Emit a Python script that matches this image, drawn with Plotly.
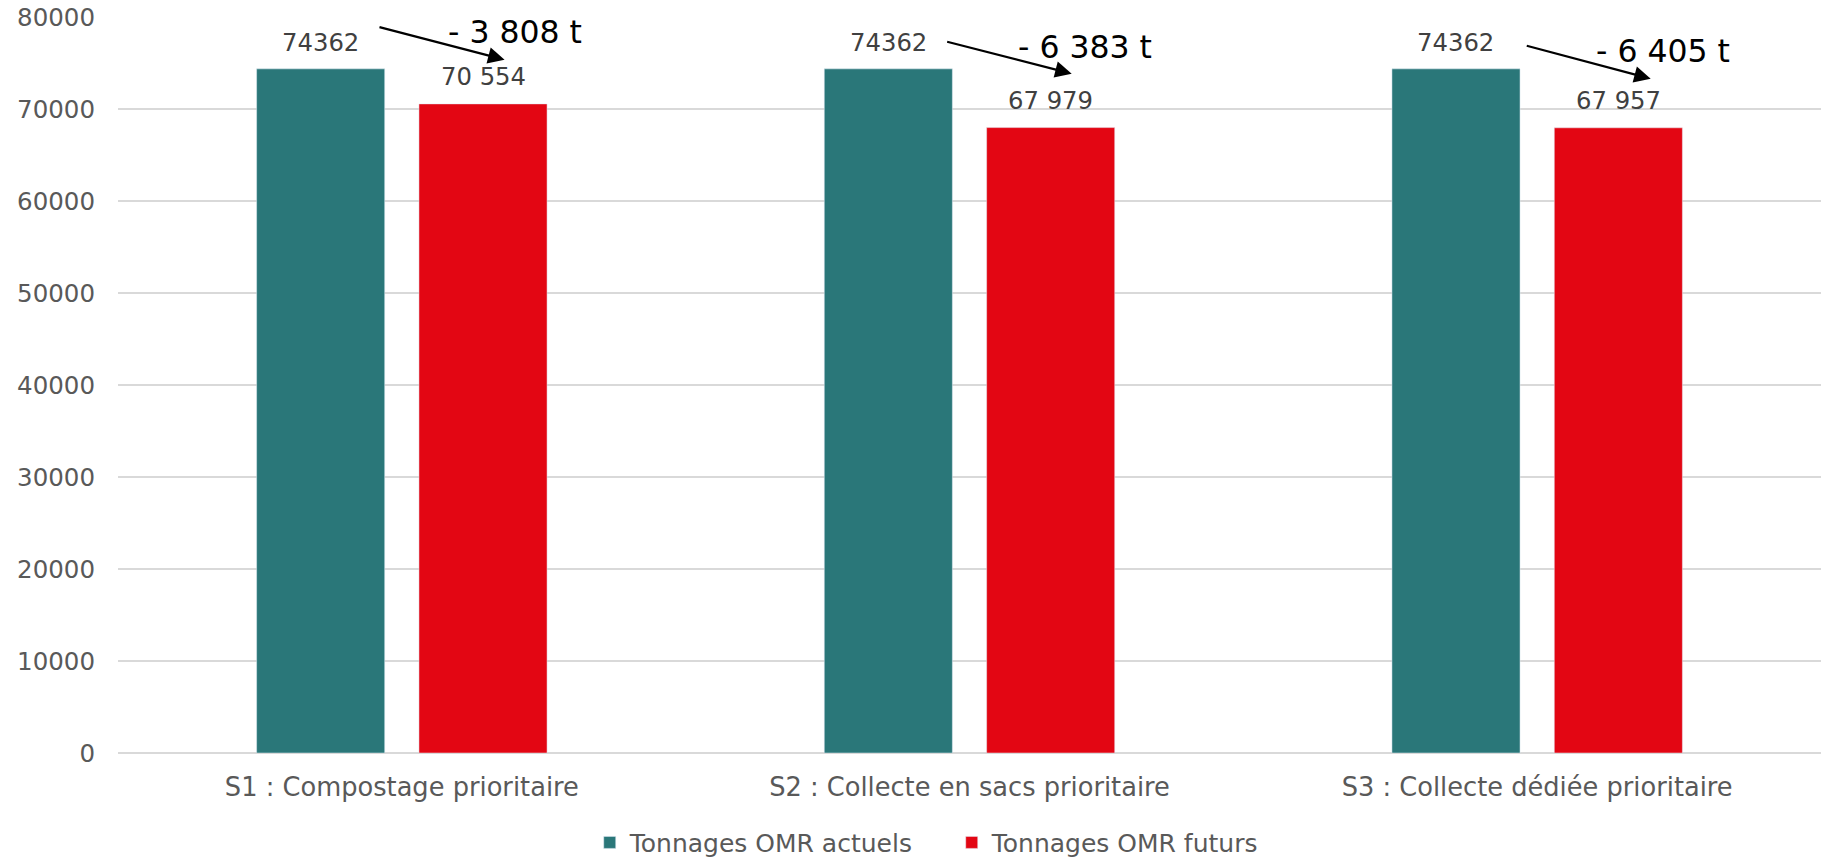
import plotly.graph_objects as go

categories = ["S1 : Compostage prioritaire", "S2 : Collecte en sacs prioritaire", "S3 : Collecte dédiée prioritaire"]
actuels = [74362, 74362, 74362]
futurs = [70554, 67979, 67957]
series_names = ["Tonnages OMR actuels", "Tonnages OMR futurs"]

TEAL = "#2A7779"
RED = "#E30613"
FONT = "DejaVu Sans"

def sp(v):
    return f"{v:,}".replace(",", " ")

fig = go.Figure()
fig.add_trace(go.Bar(x=categories, y=actuels, name=series_names[0], marker_color=TEAL))
fig.add_trace(go.Bar(x=categories, y=futurs, name=series_names[1], marker_color=RED))

off = 0.143
ann = []
for i, (a, f) in enumerate(zip(actuels, futurs)):
    ann.append(dict(x=i - off, y=a, xref="x", yref="y", text=str(a), showarrow=False,
                    yshift=26, yanchor="middle", font=dict(family=FONT, size=24.3, color="#404040")))
    ann.append(dict(x=i + off, y=f, xref="x", yref="y", text=sp(f), showarrow=False,
                    yshift=27, yanchor="middle", font=dict(family=FONT, size=24.3, color="#404040")))

# arrows and differences
arrow_geo = [(-0.042, 78946, 0.181, 75359, 0.200, 78348),
             (-0.042, 77348, 0.180, 73837, 0.203, 76717),
             (-0.021, 76913, 0.200, 73293, 0.222, 76261)]
for i, (a, f) in enumerate(zip(actuels, futurs)):
    tx, ty, hx, hy, lx, ly = arrow_geo[i]
    ann.append(dict(x=i + hx, y=hy, ax=i + tx, ay=ty, xref="x", yref="y", axref="x", ayref="y",
                    text="", showarrow=True, arrowhead=2, arrowsize=1.5, arrowwidth=2.2,
                    arrowcolor="black", standoff=0))
    ann.append(dict(x=i + lx, y=ly, xref="x", yref="y", text=f"- {sp(a - f)} t", showarrow=False,
                    yanchor="middle", font=dict(family=FONT, size=31.5, color="black")))

fig.update_layout(
    width=1821, height=885,
    margin=dict(l=118, r=0, t=17, b=132),
    plot_bgcolor="white", paper_bgcolor="white",
    barmode="group", bargap=0.428, bargroupgap=0.211,
    font=dict(family=FONT, size=24, color="#595959"),
    showlegend=True,
    legend=dict(orientation="h", x=0.277, xanchor="left", y=-0.1218, yanchor="middle",
                font=dict(family=FONT, size=25, color="#595959"), itemwidth=30,
                entrywidth=317, traceorder="normal"),
    annotations=ann,
)
fig.update_yaxes(range=[0, 80000], dtick=10000, tickformat="d", showgrid=True,
                 gridcolor="#D9D9D9", gridwidth=2, zeroline=True, zerolinecolor="#D9D9D9",
                 zerolinewidth=2, showline=False, ticks="", ticklabelstandoff=22,
                 tickfont=dict(family=FONT, size=24.5, color="#595959"))
fig.update_xaxes(showgrid=False, showline=False, ticks="", ticklabelstandoff=16,
                 tickfont=dict(family=FONT, size=25.7, color="#595959"))

fig.write_html("out.html", config={"displayModeBar": False},
               post_script="document.body.style.margin='0';document.body.style.overflow='hidden';")
